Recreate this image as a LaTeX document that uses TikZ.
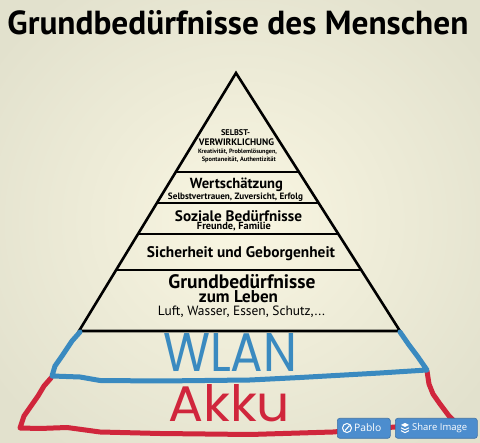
\documentclass[tikz,border=0pt]{standalone}
\usepackage{fontspec}
\usepackage{graphicx}
\setmainfont{PT Sans}
\newfontfamily\handfont{Poppins}
\newfontfamily\uifont{Open Sans}
\usetikzlibrary{calc}
\definecolor{bgin}{RGB}{249,246,226}
\definecolor{bgout}{RGB}{226,225,205}
\definecolor{wlanblue}{RGB}{58,138,192}
\definecolor{akkured}{RGB}{208,38,60}
\definecolor{btnblue}{RGB}{76,141,206}
\newcommand\fitto[2]{\resizebox{#1pt}{!}{#2}}
\tikzset{
  pyr/.style={line width=2.6pt, black, line join=miter},
  lbl/.style={anchor=base, inner sep=0pt, text=black},
  wlanline/.style={line width=5pt, wlanblue, line cap=round, line join=round},
  akkuline/.style={line width=5pt, akkured, line cap=round, line join=round},
  btn/.style={fill=btnblue, rounded corners=2.5pt, draw=btnblue!80!black, line width=0.6pt, anchor=north west, inner sep=0pt},
  btntext/.style={anchor=west, inner sep=0pt, text=white, font=\uifont\fontsize{10.3}{12}\selectfont}
}
\begin{document}
\begin{tikzpicture}[x=1pt,y=-1pt]
\useasboundingbox (0,0) rectangle (480,443);
\shade[inner color=bgin, outer color=bgout] (-60,-60) rectangle (540,503);
% title
\node[lbl] (title) at (238,35) {\fitto{461}{\bfseries Grundbedürfnisse des Menschen}};
% pyramid
\coordinate (apex) at (236,73);
\coordinate (bl) at (79,331);
\coordinate (br) at (400,331);
\draw[pyr] (bl) -- (apex) -- (br) -- cycle;
\foreach \t/\n in {0.3837/a,0.5039/b,0.6240/c,0.7636/d}{
  \coordinate (l\n) at ($(apex)!\t!(bl)$);
  \coordinate (r\n) at ($(apex)!\t!(br)$);
}
\draw[pyr] (la) -- (ra);
\draw[pyr] (lb) -- (rb);
\draw[pyr] (lc) -- (rc);
\draw[pyr] (ld) -- (rd);
% level texts
\node[lbl] (s1) at (235.5,135.7) {\fitto{29}{\bfseries SELBST-}};
\node[lbl] (s2) at (236.5,145.7) {\fitto{75}{\bfseries VERWIRKLICHUNG}};
\node[lbl] (s3) at (237.5,154) {\fitto{79}{\bfseries Kreativität, Problemlösungen,}};
\node[lbl] (s4) at (238.8,161.5) {\fitto{74}{\bfseries Spontaneität, Authentizität}};
\node[lbl] (w1) at (236.5,189) {\fitto{93}{\bfseries Wertschätzung}};
\node[lbl] (w2) at (235.5,199.3) {\fitto{135}{\bfseries Selbstvertrauen, Zuversicht, Erfolg}};
\node[lbl] (z1) at (238.5,221.3) {\fitto{127}{\bfseries Soziale Bedürfnisse}};
\node[lbl] (z2) at (234,230) {\fitto{74}{\bfseries Freunde, Familie}};
\node[lbl] (h1) at (241,257.3) {\fitto{188}{\bfseries Sicherheit und Geborgenheit}};
\node[lbl] (g1) at (242,288.7) {\fitto{147}{\bfseries Grundbedürfnisse}};
\node[lbl] (g2) at (238.5,302.6) {\fitto{79}{\bfseries zum Leben}};
\node[lbl] (g3) at (241.5,315.3) {\fitto{167}{Luft, Wasser, Essen, Schutz,...}};
% Akku (red) outline
\draw[akkuline] (51,378) -- (44,386) -- (38,396) -- (31,406) -- (24,416) -- (20,428)
  -- (40,428.5) -- (67,427.5) -- (100,432) -- (160,433.5) -- (250,434.5) -- (333,432) -- (395,427) -- (460,427);
\draw[akkuline] (427,371) -- (429,384) -- (433,394) -- (440,404) -- (449,416) -- (460,427);
% WLAN (blue) outline
\draw[wlanline] (80,332) -- (72,341) -- (62,356) -- (55,366) -- (52,376)
  -- (80,377) -- (100,380.5) -- (160,381) -- (250,380) -- (300,377.5) -- (380,373) -- (427,370)
  -- (418,357) -- (409,345) -- (400,332);
% handwritten words
\node[anchor=south west, inner sep=0pt, text=wlanblue] (wlan) at (163,372) {\resizebox{134pt}{38pt}{\handfont WLAN}};
\node[anchor=south west, inner sep=0pt, text=akkured] (akku) at (168,422) {\resizebox{122pt}{37pt}{\handfont Akku}};
% buttons
\node[btn, minimum width=53pt, minimum height=20pt] (pablo) at (337,418) {};
\draw[white, line width=1pt] (347,428) circle (4.5pt);
\draw[white, line width=1.1pt] (345,430.5) -- (349.5,425.5);
\node[btntext] (pablotext) at (354,428) {Pablo};
\node[btn, minimum width=82pt, minimum height=20pt] (share) at (395,418) {};
\fill[white] (401,425) -- (405,423) -- (409,425) -- (405,427) -- cycle;
\draw[white, line width=1pt] (401,427.8) -- (405,429.8) -- (409,427.8);
\draw[white, line width=1pt] (401,430.6) -- (405,432.6) -- (409,430.6);
\node[btntext] (sharetext) at (412,428) {\resizebox{55pt}{!}{Share Image}};
\end{tikzpicture}
\end{document}
